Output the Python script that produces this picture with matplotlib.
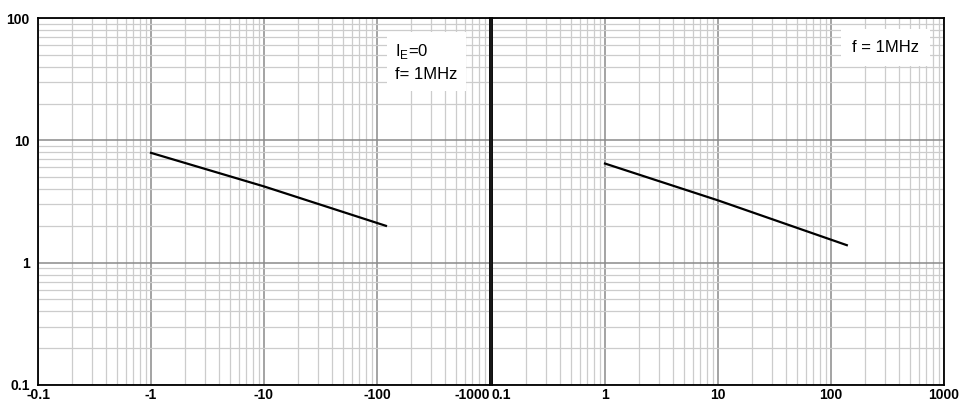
import matplotlib
matplotlib.use("Agg")
import matplotlib.pyplot as plt
from matplotlib.ticker import LogLocator, FixedLocator, FixedFormatter, NullFormatter

plt.rcParams['font.family'] = ['Liberation Sans', 'DejaVu Sans']

# Left panel (reverse bias, shown as negative values)
left_x = [1, 10, 120]
left_y = [7.9, 4.2, 2.0]
left_xlabels = ["-0.1", "-1", "-10", "-100", "-1000"]

# Right panel
right_x = [1, 10, 138]
right_y = [6.46, 3.23, 1.39]
right_xlabels = ["0.1", "1", "10", "100", "1000"]

x_ticks = [0.1, 1, 10, 100, 1000]
y_ticks = [0.1, 1, 10, 100]
y_labels = ["0.1", "1", "10", "100"]

fig = plt.figure(figsize=(9.61, 4.04), dpi=100)
W, H = 961, 404
axL = fig.add_axes([38 / W, 19 / H, 452 / W, 367 / H])
axR = fig.add_axes([492 / W, 19 / H, 452 / W, 367 / H])

for ax, xs, ys, xl in [(axL, left_x, left_y, left_xlabels), (axR, right_x, right_y, right_xlabels)]:
    ax.set_xscale('log')
    ax.set_yscale('log')
    ax.set_xlim(0.1, 1000)
    ax.set_ylim(0.1, 100)
    ax.xaxis.set_major_locator(FixedLocator(x_ticks))
    ax.xaxis.set_major_formatter(FixedFormatter(xl))
    ax.xaxis.set_minor_locator(LogLocator(base=10, subs=range(2, 10), numticks=20))
    ax.xaxis.set_minor_formatter(NullFormatter())
    ax.yaxis.set_major_locator(FixedLocator(y_ticks))
    ax.yaxis.set_minor_locator(LogLocator(base=10, subs=range(2, 10), numticks=20))
    ax.yaxis.set_minor_formatter(NullFormatter())
    ax.grid(which='minor', color='#cccccc', linewidth=0.9)
    ax.grid(which='major', color='#8a8a8a', linewidth=1.1)
    ax.tick_params(which='both', length=0)
    ax.tick_params(axis='x', pad=2, labelsize=10)
    for lab in ax.get_xticklabels():
        lab.set_fontweight('bold')
    for s in ax.spines.values():
        s.set_color('black')
        s.set_linewidth(1.3)
    ax.plot(xs, ys, color='black', linewidth=1.6)

axL.yaxis.set_major_formatter(FixedFormatter(y_labels))
axL.tick_params(axis='y', labelsize=10, pad=6)
for lab in axL.get_yticklabels():
    lab.set_fontweight('bold')
axR.set_yticklabels([])

# Align the edge tick labels like the reference
xl_lab = axL.get_xticklabels()
xl_lab[0].set_horizontalalignment('center')
xl_lab[-1].set_horizontalalignment('right')
xr_lab = axR.get_xticklabels()
xr_lab[0].set_horizontalalignment('left')
xr_lab[-1].set_horizontalalignment('center')

axL.text(0.79, 0.935, "I$_\\mathregular{E}$=0\nf= 1MHz", transform=axL.transAxes,
         fontsize=12, va='top', ha='left', linespacing=1.55,
         bbox=dict(facecolor='white', edgecolor='none', pad=6))
axR.text(0.87, 0.92, "f = 1MHz", transform=axR.transAxes,
         fontsize=12, va='center', ha='center',
         bbox=dict(facecolor='white', edgecolor='none', pad=8))

fig.savefig("out.png", dpi=100, facecolor='white')
